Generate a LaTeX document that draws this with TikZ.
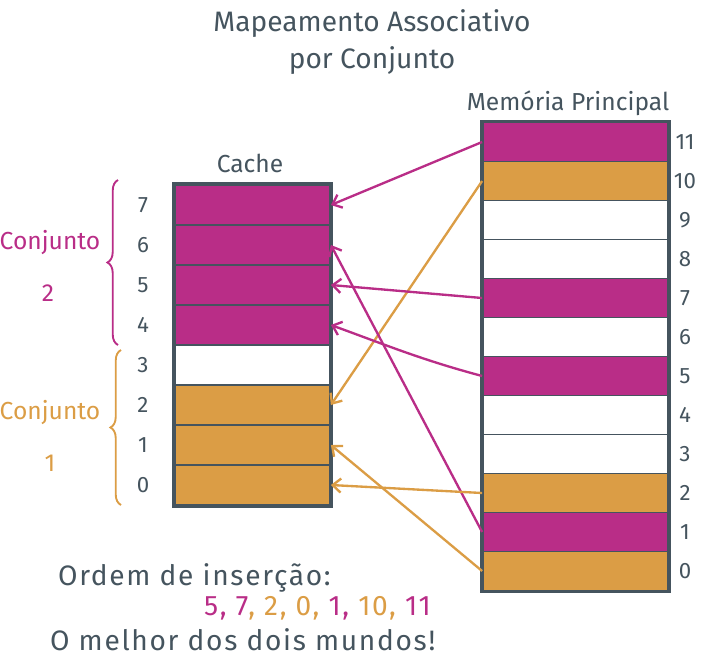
\documentclass[tikz,border=0pt]{standalone}
\usepackage{fontspec}
\setmainfont{Fira Sans}
\usetikzlibrary{arrows.meta,decorations.pathreplacing}
\definecolor{mag}{HTML}{B92D87}
\definecolor{lar}{HTML}{DB9D45}
\definecolor{tinta}{HTML}{45545E}

\begin{document}
\begin{tikzpicture}[x=0.03cm,y=-0.03cm,
  celcache/.style={draw=tinta,line width=1.5pt,minimum width=4.65cm,minimum height=1.2cm,inner sep=0pt},
  celmem/.style={draw=tinta,line width=1.5pt,minimum width=5.55cm,minimum height=1.17cm,inner sep=0pt},
  numero/.style={text=tinta,font=\fontsize{19}{22}\selectfont},
  texto/.style={text=tinta,font=\fontsize{24}{32}\selectfont},
  largo/.style={font=\fontsize{24}{30}\selectfont\addfontfeature{LetterSpace=6}},
  rotulo/.style={text=tinta,font=\fontsize{21}{24}\selectfont},
  conj/.style={font=\fontsize{21}{24}\selectfont},
  seta/.style={line width=2pt,-{Straight Barb[length=7pt,width=12pt]}},
  chave/.style={line width=1.6pt,decorate,decoration={brace,amplitude=9pt}}]
 \path[use as bounding box] (0,0) rectangle (702,665);

 % titulo
 \node[texto,align=center] (titulo) at (372,42) {Mapeamento Associativo\\por Conjunto};

 % cache
 \foreach \i/\f in {0/lar,1/lar,2/lar,3/white,4/mag,5/mag,6/mag,7/mag}
  {
    \node[celcache,fill=\f] (c\i) at (252.5,{485-40*\i}) {};
    \node[numero] (nc\i) at (143,{485-40*\i}) {\i};
  }
 \draw[tinta,line width=3pt] (c7.north west) rectangle (c0.south east);
 \node[rotulo] (cache) at (250,163) {Cache};

 % memoria principal
 \foreach \i/\f in {0/lar,1/mag,2/lar,3/white,4/white,5/mag,6/white,7/mag,8/white,9/white,10/lar,11/mag}
  {
    \node[celmem,fill=\f] (m\i) at (575.5,{571-39*\i}) {};
    \node[numero] (nm\i) at (685,{571-39*\i}) {\i};
  }
 \draw[tinta,line width=3pt] (m11.north west) rectangle (m0.south east);
 \node[rotulo] (mp) at (568,103) {Memória Principal};

 % conjuntos
 \draw[chave,mag] (118,345) -- (118,180);
 \draw[chave,lar] (121,505) -- (121,350);
 \node[conj,text=mag] (conj2) at (50,243) {Conjunto};
 \node[conj,text=mag] (n2) at (48,293) {2};
 \node[conj,text=lar] (conj1) at (50,413) {Conjunto};
 \node[conj,text=lar] (n1) at (50,463) {1};

 % setas
 \foreach \de/\para/\cor in {11/7/mag, 10/2/lar, 7/5/mag, 1/6/mag, 2/0/lar, 0/1/lar}
  {
    \draw[seta,\cor] (m\de.west) -- (c\para.east);
  }
 \draw[seta,mag] (m5.west) to[out=165,in=-20] (c4.east);

 % ordem
 \node[texto,largo,anchor=west] (ordem) at (54,578) {Ordem de inserção:};
 \node[texto,largo,anchor=west] (lista) at (200,608)
  {\textcolor{mag}{5,}\ \textcolor{mag}{7}\textcolor{lar}{,}\ \textcolor{lar}{2,}\ \textcolor{lar}{0,}\ \textcolor{mag}{1,}\ \textcolor{lar}{10,}\ \textcolor{mag}{11}};
 \node[texto,largo,anchor=west] (melhor) at (46,640) {O melhor dos dois mundos!};
\end{tikzpicture}
\end{document}
